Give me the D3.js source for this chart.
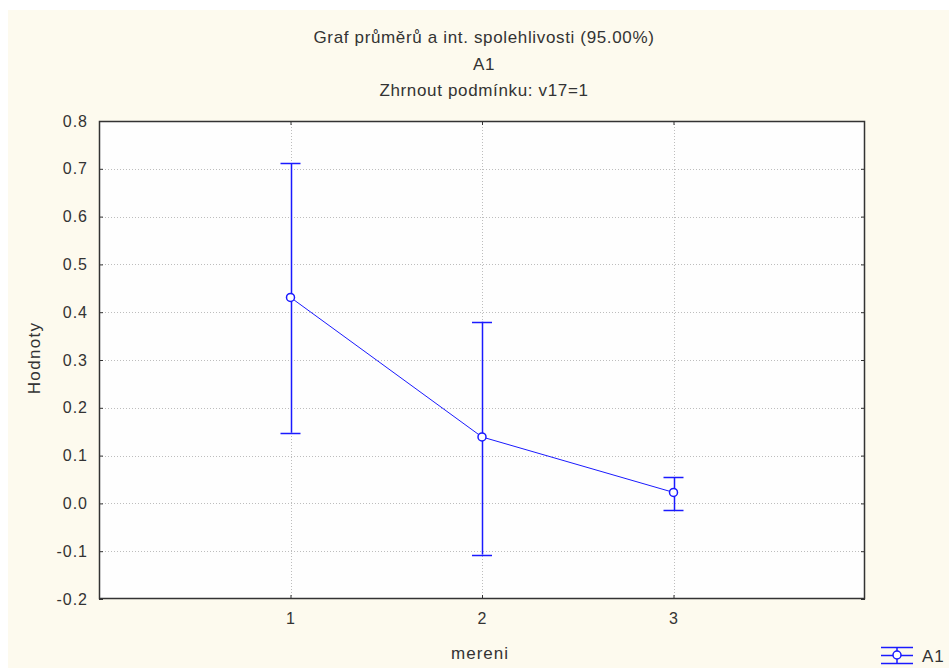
<!DOCTYPE html>
<html>
<head>
<meta charset="utf-8">
<script src="https://cdn.jsdelivr.net/npm/d3@7"></script>
<style>
  html, body { margin: 0; padding: 0; background: #fff; }
  svg text { font-family: "Liberation Sans", Arial, sans-serif; fill: #333; }
</style>
</head>
<body>
<script>
// chart data
const categories = [1, 2, 3];
const means = [0.431, 0.139, 0.023];
const upper = [0.712, 0.380, 0.055];
const lower = [0.148, -0.107, -0.014];
const yTicks = [-0.2, -0.1, 0.0, 0.1, 0.2, 0.3, 0.4, 0.5, 0.6, 0.7, 0.8];
const titles = ["Graf průměrů a int. spolehlivosti (95.00%)", "A1", "Zhrnout podmínku: v17=1"];
const seriesName = "A1";

const W = 949, H = 668;
const m = {left: 99, right: 865, top: 121, bottom: 599};
const blue = "#1a1aff";

const svg = d3.select("body").append("svg").attr("width", W).attr("height", H);

svg.append("rect").attr("x", 8).attr("y", 10).attr("width", W - 8).attr("height", H - 10)
    .attr("fill", "#fdfaee");

const x = d3.scaleLinear().domain([0, 4]).range([m.left, m.right]);
const y = d3.scaleLinear().domain([-0.2, 0.8]).range([m.bottom, m.top]);

svg.append("rect").attr("x", m.left).attr("y", m.top)
    .attr("width", m.right - m.left).attr("height", m.bottom - m.top).attr("fill", "#fefefe");

// grid
const grid = svg.append("g").attr("stroke", "#bdbdbd").attr("stroke-dasharray", "1,2");
grid.selectAll("line.h").data(yTicks.slice(1, -1)).join("line")
    .attr("x1", m.left).attr("x2", m.right)
    .attr("y1", d => Math.round(y(d)) + 0.5).attr("y2", d => Math.round(y(d)) + 0.5);
grid.selectAll("line.v").data(categories).join("line")
    .attr("y1", m.top).attr("y2", m.bottom)
    .attr("x1", d => Math.round(x(d)) + 0.5).attr("x2", d => Math.round(x(d)) + 0.5);

// axes (ticks pointing inward)
const fmt = d => d3.format(".1f")(d).replace("\u2212", "-");
const axL = svg.append("g").attr("transform", `translate(${m.left},0)`)
    .call(d3.axisLeft(y).tickValues(yTicks).tickFormat(fmt).tickSizeInner(-4).tickSizeOuter(0).tickPadding(11));
const axR = svg.append("g").attr("transform", `translate(${m.right},0)`)
    .call(d3.axisRight(y).tickValues(yTicks).tickFormat("").tickSizeInner(-4).tickSizeOuter(0));
const axB = svg.append("g").attr("transform", `translate(0,${m.bottom})`)
    .call(d3.axisBottom(x).tickValues(categories).tickFormat(d3.format("d")).tickSizeInner(-4).tickSizeOuter(0).tickPadding(14));
const axT = svg.append("g").attr("transform", `translate(0,${m.top})`)
    .call(d3.axisTop(x).tickValues(categories).tickFormat("").tickSizeInner(-4).tickSizeOuter(0));
[axL, axR, axB, axT].forEach(a => {
    a.select(".domain").remove();
    a.selectAll("line").attr("stroke", "#333");
    a.selectAll("text").attr("font-size", 16).attr("fill", "#333")
        .style("letter-spacing", "1px")
        .style("font-family", "'Liberation Sans', Arial, sans-serif");
});

svg.append("rect").attr("x", m.left + 0.5).attr("y", m.top + 0.5)
    .attr("width", m.right - m.left - 1).attr("height", m.bottom - m.top - 1)
    .attr("fill", "none").attr("stroke", "#333").attr("stroke-width", 1.5);

// titles
svg.selectAll("text.title").data(titles).join("text")
    .attr("class", "title")
    .attr("x", 484).attr("y", (d, i) => 43 + i * 26.5)
    .attr("text-anchor", "middle").attr("font-size", 17)
    .style("letter-spacing", "0.65px")
    .text(d => d);

svg.append("text").attr("x", 480).attr("y", 659).attr("text-anchor", "middle")
    .attr("font-size", 17).style("letter-spacing", "1px").text("mereni");
svg.append("text").attr("transform", "translate(40,358) rotate(-90)")
    .attr("text-anchor", "middle").attr("font-size", 17).style("letter-spacing", "1.3px").text("Hodnoty");

// series
const pts = categories.map((c, i) => ({c, m: means[i], hi: upper[i], lo: lower[i]}));
const g = svg.append("g").attr("stroke", blue).attr("fill", "none");
g.append("path").datum(pts)
    .attr("d", d3.line().x(d => x(d.c)).y(d => y(d.m)));
g.selectAll("line.err").data(pts).join("line")
    .attr("x1", d => Math.round(x(d.c)) + 0.5).attr("x2", d => Math.round(x(d.c)) + 0.5)
    .attr("y1", d => y(d.hi)).attr("y2", d => y(d.lo)).attr("stroke-width", 1.5);
["hi", "lo"].forEach(k => {
    g.selectAll("line.cap-" + k).data(pts).join("line")
        .attr("x1", d => x(d.c) - 10).attr("x2", d => x(d.c) + 10)
        .attr("y1", d => Math.round(y(d[k])) + 0.5).attr("y2", d => Math.round(y(d[k])) + 0.5)
        .attr("stroke-width", 1.5);
});
g.selectAll("circle").data(pts).join("circle")
    .attr("cx", d => x(d.c)).attr("cy", d => y(d.m)).attr("r", 4)
    .attr("fill", "#fff").attr("stroke-width", 1.5);

// legend
const lg = svg.append("g").attr("transform", "translate(897,655)");
lg.selectAll("line.h").data([-8, 0, 8]).join("line")
    .attr("x1", -16).attr("x2", 16).attr("y1", d => d + 0.5).attr("y2", d => d + 0.5)
    .attr("stroke", blue).attr("stroke-width", 1.5);
lg.append("line").attr("x1", 0).attr("x2", 0).attr("y1", -8).attr("y2", 8)
    .attr("stroke", blue).attr("stroke-width", 1.5);
lg.append("circle").attr("r", 4).attr("fill", "#fff").attr("stroke", blue).attr("stroke-width", 1.5);
lg.append("text").attr("x", 25).attr("y", 7).attr("font-size", 17).style("letter-spacing", "1px").text(seriesName);
</script>
</body>
</html>
